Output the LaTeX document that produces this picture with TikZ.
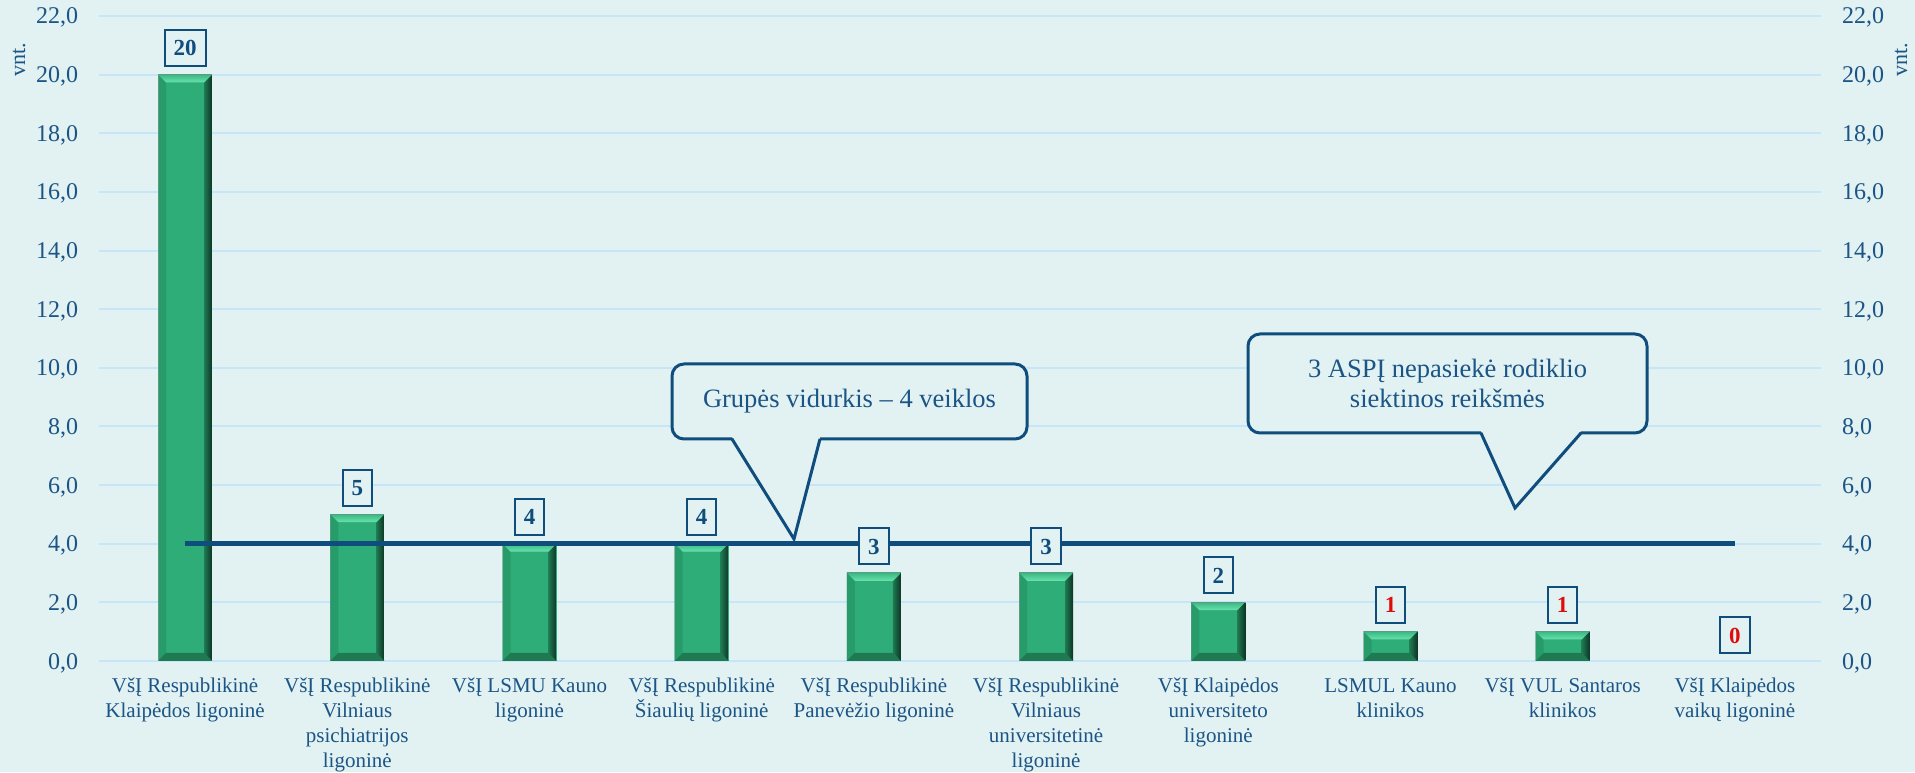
\documentclass[tikz,border=0pt]{standalone}
\usepackage{fontspec}
\setmainfont{Liberation Serif}
\usetikzlibrary{positioning}

\definecolor{chartbg}{HTML}{E2F1F2}
\definecolor{gridblue}{HTML}{C6E5F9}
\definecolor{txtblue}{HTML}{1B5586}
\definecolor{avgblue}{HTML}{0F4D7D}
\definecolor{alertred}{HTML}{E00B0B}
\definecolor{barface}{HTML}{2EAD78}
\definecolor{bartop}{HTML}{6BE2AE}
\definecolor{bartopout}{HTML}{38B882}
\definecolor{barleft}{HTML}{289B6B}
\definecolor{barbottom}{HTML}{1F7A53}
\definecolor{barright}{HTML}{0C3524}
\definecolor{baredge}{HTML}{5E9A82}

\tikzset{
  gridline/.style={draw=gridblue, line width=2pt},
  leftlab/.style={anchor=base east, inner sep=0pt, xshift=-20pt, yshift=-8pt, text=txtblue, font=\fontsize{24}{28}\selectfont},
  rightlab/.style={anchor=base west, inner sep=0pt, xshift=20pt, yshift=-8pt, text=txtblue, font=\fontsize{24}{28}\selectfont},
  unitlab/.style={rotate=90, inner sep=0pt, text=txtblue, font=\fontsize{22}{26}\selectfont},
  greenbar/.style={fill=barface, minimum width=54pt, inner sep=0pt, anchor=south, path picture={
    \coordinate (nw) at (path picture bounding box.north west);
    \coordinate (ne) at (path picture bounding box.north east);
    \coordinate (sw) at (path picture bounding box.south west);
    \coordinate (se) at (path picture bounding box.south east);
    \fill[barleft] (nw) -- (sw) -- ([shift={(8pt,8pt)}]sw) -- ([shift={(8pt,-8pt)}]nw) -- cycle;
    \fill[barbottom] (sw) -- (se) -- ([shift={(-8pt,8pt)}]se) -- ([shift={(8pt,8pt)}]sw) -- cycle;
    \shade[left color=barbottom, right color=barright] (ne) -- (se) -- ([shift={(-8pt,8pt)}]se) -- ([shift={(-8pt,-8pt)}]ne) -- cycle;
    \shade[top color=bartopout, bottom color=bartop] (nw) -- (ne) -- ([shift={(-8pt,-8pt)}]ne) -- ([shift={(8pt,-8pt)}]nw) -- cycle;
    \draw[baredge, line width=1pt] (sw) -- (nw) -- (ne);
  }},
  valbox/.style={draw=avgblue, line width=2pt, fill=chartbg, text=avgblue, inner xsep=9pt, inner ysep=10pt,
    text height=16pt, text depth=0pt, font=\fontsize{23}{27}\selectfont\bfseries},
  catlab/.style={anchor=north, inner sep=0pt, align=center, text=txtblue, font=\fontsize{21}{25}\selectfont},
  callbox/.style={draw=avgblue, line width=3pt, fill=chartbg, rounded corners=12pt, align=center, text=txtblue,
    font=\fontsize{26.5}{30}\selectfont},
  callline/.style={draw=avgblue, line width=3pt, line join=miter},
}

\begin{document}
\begin{tikzpicture}[x=1pt,y=1pt]
    \useasboundingbox (0,0) rectangle (1915,772);
    \fill[chartbg] (0,0) rectangle (1915,772);
    %grid and both axes
    \draw[gridline] (99,111) node[leftlab] (l0) {0,0} -- (1821,111) node[rightlab] (r0) {0,0};
    \draw[gridline] (99,169.64) node[leftlab] (l2) {2,0} -- (1821,169.64) node[rightlab] (r2) {2,0};
    \draw[gridline] (99,228.27) node[leftlab] (l4) {4,0} -- (1821,228.27) node[rightlab] (r4) {4,0};
    \draw[gridline] (99,286.91) node[leftlab] (l6) {6,0} -- (1821,286.91) node[rightlab] (r6) {6,0};
    \draw[gridline] (99,345.55) node[leftlab] (l8) {8,0} -- (1821,345.55) node[rightlab] (r8) {8,0};
    \draw[gridline] (99,404.18) node[leftlab] (l10) {10,0} -- (1821,404.18) node[rightlab] (r10) {10,0};
    \draw[gridline] (99,462.82) node[leftlab] (l12) {12,0} -- (1821,462.82) node[rightlab] (r12) {12,0};
    \draw[gridline] (99,521.45) node[leftlab] (l14) {14,0} -- (1821,521.45) node[rightlab] (r14) {14,0};
    \draw[gridline] (99,580.09) node[leftlab] (l16) {16,0} -- (1821,580.09) node[rightlab] (r16) {16,0};
    \draw[gridline] (99,638.73) node[leftlab] (l18) {18,0} -- (1821,638.73) node[rightlab] (r18) {18,0};
    \draw[gridline] (99,697.36) node[leftlab] (l20) {20,0} -- (1821,697.36) node[rightlab] (r20) {20,0};
    \draw[gridline] (99,756) node[leftlab] (l22) {22,0} -- (1821,756) node[rightlab] (r22) {22,0};
    \node[unitlab] (unitl) at (19,712.5) {vnt.};
    \node[unitlab] (unitr) at (1901,712.5) {vnt.};
    %bars
    \node[greenbar, minimum height=586.36pt] (bar1) at (185.1,111) {};
    \node[greenbar, minimum height=146.59pt] (bar2) at (357.3,111) {};
    \node[greenbar, minimum height=117.27pt] (bar3) at (529.5,111) {};
    \node[greenbar, minimum height=117.27pt] (bar4) at (701.7,111) {};
    \node[greenbar, minimum height=87.95pt] (bar5) at (873.9,111) {};
    \node[greenbar, minimum height=87.95pt] (bar6) at (1046.1,111) {};
    \node[greenbar, minimum height=58.64pt] (bar7) at (1218.3,111) {};
    \node[greenbar, minimum height=29.32pt] (bar8) at (1390.5,111) {};
    \node[greenbar, minimum height=29.32pt] (bar9) at (1562.7,111) {};
    \coordinate (bar10) at (1734.9,111);
    %group average
    \coordinate (avgstart) at (185.1,228.27);
    \coordinate (avgend) at (1734.9,228.27);
    \draw[avgblue, line width=5pt] (avgstart) -- (avgend);
    %values
    \node[valbox, above=7.5pt of bar1] (val1) {20};
    \node[valbox, above=7.5pt of bar2] (val2) {5};
    \node[valbox, above=7.5pt of bar3] (val3) {4};
    \node[valbox, above=7.5pt of bar4] (val4) {4};
    \node[valbox, above=7.5pt of bar5] (val5) {3};
    \node[valbox, above=7.5pt of bar6] (val6) {3};
    \node[valbox, above=7.5pt of bar7] (val7) {2};
    \node[valbox, text=alertred, above=7.5pt of bar8] (val8) {1};
    \node[valbox, text=alertred, above=7.5pt of bar9] (val9) {1};
    \node[valbox, text=alertred, above=7pt of bar10] (val10) {0};
    %callouts
    \node[callbox, minimum width=355pt, minimum height=75pt] (avgnote) at (849.5,370.5) {Grupės vidurkis – 4 veiklos};
    \coordinate (avgtip) at (794,233);
    \fill[chartbg] (732,335) -- (avgtip) -- (820,335) -- cycle;
    \draw[callline] (732,333) -- (avgtip) -- (820,333);
    \node[callbox, minimum width=399pt, minimum height=99pt] (missnote) at (1447.5,388.5) {3 ASPĮ nepasiekė rodiklio\\siektinos reikšmės};
    \coordinate (misstip) at (1515,264);
    \fill[chartbg] (1481,341) -- (misstip) -- (1581,341) -- cycle;
    \draw[callline] (1481,339) -- (misstip) -- (1581,339);
    %categories
    \node[catlab] (cat1) at (185.1,94) {VšĮ Respublikinė\\Klaipėdos ligoninė};
    \node[catlab] (cat2) at (357.3,94) {VšĮ Respublikinė\\Vilniaus\\psichiatrijos\\ligoninė};
    \node[catlab] (cat3) at (529.5,94) {VšĮ LSMU Kauno\\ligoninė};
    \node[catlab] (cat4) at (701.7,94) {VšĮ Respublikinė\\Šiaulių ligoninė};
    \node[catlab] (cat5) at (873.9,94) {VšĮ Respublikinė\\Panevėžio ligoninė};
    \node[catlab] (cat6) at (1046.1,94) {VšĮ Respublikinė\\Vilniaus\\universitetinė\\ligoninė};
    \node[catlab] (cat7) at (1218.3,94) {VšĮ Klaipėdos\\universiteto\\ligoninė};
    \node[catlab] (cat8) at (1390.5,94) {LSMUL Kauno\\klinikos};
    \node[catlab] (cat9) at (1562.7,94) {VšĮ VUL Santaros\\klinikos};
    \node[catlab] (cat10) at (1734.9,94) {VšĮ Klaipėdos\\vaikų ligoninė};
\end{tikzpicture}
\end{document}
